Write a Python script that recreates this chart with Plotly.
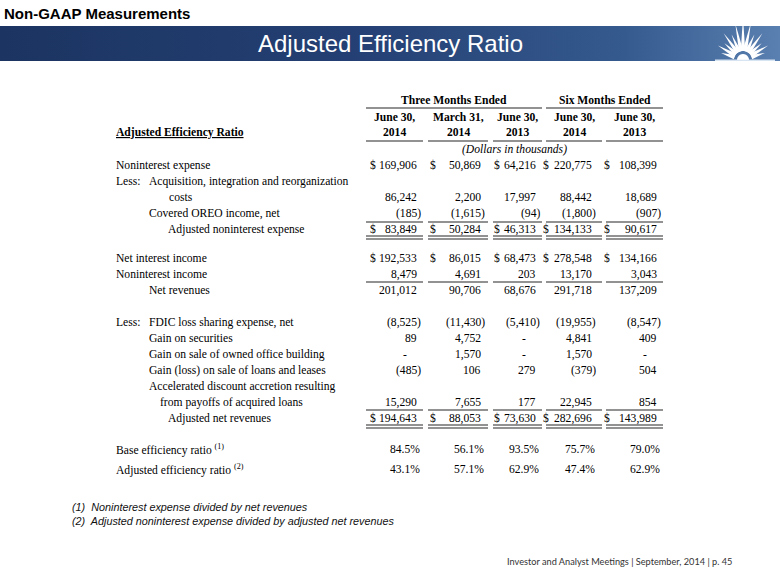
import math
import plotly.graph_objects as go

W, H = 780, 585

# ---------------- data ----------------
section_title = "Non-GAAP Measurements"
slide_title = "Adjusted Efficiency Ratio"
table_title = "Adjusted Efficiency Ratio"
group_headers = ["Three Months Ended", "Six Months Ended"]
col_month = ["June 30,", "March 31,", "June 30,", "June 30,", "June 30,"]
col_year = ["2014", "2014", "2013", "2014", "2013"]
units_note = "(Dollars in thousands)"

row_labels = [
    "Noninterest expense",
    "Less:|Acquisition, integration and reorganization",
    "costs",
    "Covered OREO income, net",
    "Adjusted noninterest expense",
    "Net interest income",
    "Noninterest income",
    "Net revenues",
    "Less:|FDIC loss sharing expense, net",
    "Gain on securities",
    "Gain on sale of owned office building",
    "Gain (loss) on sale of loans and leases",
    "Accelerated discount accretion resulting",
    "from payoffs of acquired loans",
    "Adjusted net revenues",
    "Base efficiency ratio",
    "Adjusted efficiency ratio",
]
label_notes = ["", "", "", "", "", "", "", "", "", "", "", "", "", "", "", "(1)", "(2)"]

# "" = label-only row, None = dash
three_jun_2014 = [169906, "", 86242, -185, 83849, 192533, 8479, 201012, -8525, 89, None, -485, "", 15290, 194643, 84.5, 43.1]
three_mar_2014 = [50869, "", 2200, -1615, 50284, 86015, 4691, 90706, -11430, 4752, 1570, 106, "", 7655, 88053, 56.1, 57.1]
three_jun_2013 = [64216, "", 17997, -94, 46313, 68473, 203, 68676, -5410, None, None, 279, "", 177, 73630, 93.5, 62.9]
six_jun_2014 = [220775, "", 88442, -1800, 134133, 278548, 13170, 291718, -19955, 4841, 1570, -379, "", 22945, 282696, 75.7, 47.4]
six_jun_2013 = [108399, "", 18689, -907, 90617, 134166, 3043, 137209, -8547, 409, None, 504, "", 854, 143989, 79.0, 62.9]
columns = [three_jun_2014, three_mar_2014, three_jun_2013, six_jun_2014, six_jun_2013]

dollar_rows = [0, 4, 5, 14]
percent_rows = [15, 16]

footnotes = [
    "(1)  Noninterest expense divided by net revenues",
    "(2)  Adjusted noninterest expense divided by adjusted net revenues",
]
footer = "Investor and Analyst Meetings | September, 2014 | p. 45"

# ---------------- layout / style ----------------
SERIF = "Liberation Serif, Times New Roman, serif"
SANS = "Liberation Sans, Arial, sans-serif"
FOOTF = "Lato, Open Sans, sans-serif"
FS = 11.6

row_y = [165, 181, 197, 213, 229, 258, 274, 290, 322, 338, 354, 370, 386, 402, 418, 449, 469]
label_x = [114, 114, 167, 147, 166, 114, 114, 147, 114, 147, 147, 147, 147, 158, 166, 114, 114]
less_x = 147
col_right = [419, 483, 538, 594, 659]
col_dollar = [368, 428, 492, 541, 602]
col_span = [(366, 423), (428, 488), (493, 542), (546, 602), (606, 663)]
single_under = [(213, 222), (274, 282), (402, 410)]
double_under = [229, 418]
LINE = "#6e6e6e"

fig = go.Figure()
ann = []
shapes = []


def text(x, y, s, size=FS, font=SERIF, color="#000", xa="left", ya="middle"):
    ann.append(dict(x=x, y=y, xref="x", yref="y", text=s, showarrow=False,
                    xanchor=xa, yanchor=ya, font=dict(family=font, size=size, color=color)))


def hline(x0, x1, y, color=LINE, w=1.6):
    shapes.append(dict(type="line", xref="x", yref="y", x0=x0, x1=x1, y0=y, y1=y,
                       line=dict(color=color, width=w)))


# banner with gradient
fig.add_trace(go.Scatter(
    x=[0, W, W, 0, 0], y=[26, 26, 61, 61, 26], mode="lines", fill="toself",
    line=dict(width=0), hoverinfo="skip", showlegend=False,
    fillgradient=dict(type="horizontal",
                      colorscale=[[0, "#1b3461"], [0.45, "#243f73"], [0.8, "#355a8e"], [1, "#5a80b1"]]),
))

# logo starburst
cx, cy = 743, 60
ray_angles = [18, 30, 42, 54, 66, 78, 90, 102, 114, 126, 138, 150, 162]
ray_len = [14, 20, 16, 24, 19, 29, 34, 28, 19, 24, 16, 20, 14]
for a, L in zip(ray_angles, ray_len):
    t = math.radians(a)
    r0 = 9
    bx, by = cx + r0 * math.cos(t), cy - r0 * math.sin(t)
    px, py = -math.sin(t) * 2.2, -math.cos(t) * 2.2
    tx, ty = cx + (r0 + L) * math.cos(t), cy - (r0 + L) * math.sin(t)
    shapes.append(dict(type="path", xref="x", yref="y",
                       path=f"M {bx+px:.1f},{by+py:.1f} L {tx:.1f},{ty:.1f} L {bx-px:.1f},{by-py:.1f} Z",
                       fillcolor="white", line=dict(width=0)))
arc = " ".join(f"L {cx + 6*math.cos(math.radians(d)):.1f},{cy - 6*math.sin(math.radians(d)):.1f}"
               for d in range(0, 181, 15))
shapes.append(dict(type="path", xref="x", yref="y", path=f"M {cx+6},{cy} {arc} Z",
                   fillcolor="white", line=dict(width=0)))
shapes.append(dict(type="rect", xref="x", yref="y", x0=715, x1=775, y0=59.5, y1=61,
                   fillcolor="rgba(230,240,250,0.9)", line=dict(width=0)))

text(2, 13, f"<b>{section_title}</b>", size=15, font=SANS)
text(390, 43, slide_title, size=24, font=SANS, color="white", xa="center")

# table headers
text((366 + 542) / 2, 100, f"<b>{group_headers[0]}</b>", xa="center")
text((546 + 663) / 2, 100, f"<b>{group_headers[1]}</b>", xa="center")
hline(366, 542, 108)
hline(546, 663, 108)
for i, (a, b) in enumerate(col_span):
    c = (a + b) / 2
    text(c, 117, f"<b>{col_month[i]}</b>", xa="center")
    text(c, 132, f"<b>{col_year[i]}</b>", xa="center")
    hline(a, b, 141)
text(114, 132, f"<b><u>{table_title}</u></b>")
text((366 + 663) / 2, 149, f"<i>{units_note}</i>", xa="center")

# row labels
for r, lab in enumerate(row_labels):
    y = row_y[r]
    if "|" in lab:
        pre, rest = lab.split("|")
        text(label_x[r], y, pre)
        text(less_x, y, rest)
    else:
        s = lab
        if label_notes[r]:
            s += f" <sup>{label_notes[r]}</sup>"
        text(label_x[r], y, s)

# values
for ci, col in enumerate(columns):
    R = col_right[ci]
    for r, v in enumerate(col):
        y = row_y[r]
        if v == "":
            continue
        if v is None:
            text(R - 10, y, "-", xa="right")
            continue
        if r in percent_rows:
            text(R + 3, y, f"{v:.1f}%", xa="right")
            continue
        if v < 0:
            text(R + 4, y, f"({abs(v):,})", xa="right")
        else:
            text(R, y, f"{v:,}", xa="right")
        if r in dollar_rows:
            text(col_dollar[ci], y, "$")

# underlines
for (_, yl) in single_under:
    for a, b in col_span:
        hline(a, b, yl)
for yd in double_under:
    for a, b in col_span:
        hline(a, b, yd + 7)
        hline(a, b, yd + 10)

# footnotes & footer
text(70, 507, f"<i>{footnotes[0]}</i>", size=10.8, font=SANS, color="#111")
text(70, 521, f"<i>{footnotes[1]}</i>", size=10.8, font=SANS, color="#111")
text(734, 561, footer, size=9.2, font=FOOTF, color="#333", xa="right")

fig.update_layout(
    width=W, height=H, margin=dict(l=0, r=0, t=0, b=0),
    paper_bgcolor="white", plot_bgcolor="white",
    xaxis=dict(range=[0, W], visible=False, fixedrange=True),
    yaxis=dict(range=[H, 0], visible=False, fixedrange=True),
    annotations=ann, shapes=shapes, showlegend=False,
)
fig.write_html("out.html", config={"displayModeBar": False},
               post_script="document.body.style.margin='0';")
